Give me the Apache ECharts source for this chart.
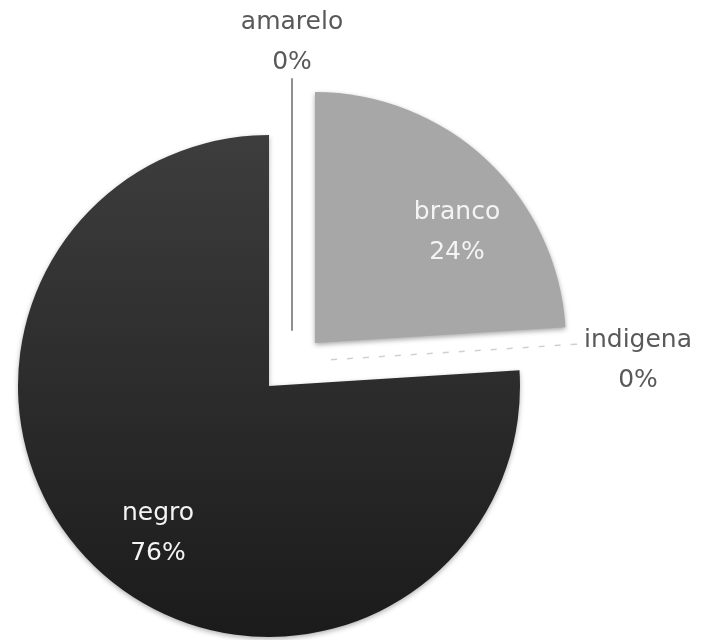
<!DOCTYPE html>
<html>
<head>
<meta charset="utf-8">
<script src="https://cdn.jsdelivr.net/npm/echarts@6/dist/echarts.min.js"></script>
<style>
  html, body { margin: 0; padding: 0; background: #ffffff; }
  #chart { width: 704px; height: 640px; }
</style>
</head>
<body>
<div id="chart"></div>
<script>
// Slices, clockwise from 12 o'clock
const categories = ['amarelo', 'branco', 'indigena', 'negro'];
const values = [0, 24, 0, 76];

// Each slice is pulled out of the pie on its own centre
const sliceCenters = {
  amarelo: [292, 330],
  branco: [315, 343],
  indigena: [326, 360],
  negro: [269, 386]
};

const sliceStyles = {
  amarelo: { color: 'rgba(0,0,0,0)', borderColor: '#8f8f8f', borderWidth: 2 },
  branco: { color: '#a7a7a7', borderWidth: 0, shadowBlur: 5, shadowColor: 'rgba(0,0,0,0.35)', shadowOffsetY: 2 },
  indigena: { color: 'rgba(0,0,0,0)', borderColor: '#d0d0d0', borderWidth: 1.5, borderType: [6, 10] },
  negro: {
    color: { type: 'linear', x: 0, y: 0, x2: 0, y2: 1,
      colorStops: [{ offset: 0, color: '#3d3d3d' }, { offset: 1, color: '#1b1b1b' }] },
    borderWidth: 0, shadowBlur: 5, shadowColor: 'rgba(0,0,0,0.3)', shadowOffsetY: 2
  }
};

const baseFont = { fontFamily: 'DejaVu Sans', fontSize: 25, lineHeight: 40 };
const insideLabel = Object.assign({ show: true, position: 'inside', color: '#f4f4f4',
  formatter: '{b}\n{d}%' }, baseFont);
const outsideLabel = Object.assign({ show: true, position: 'outside', color: '#595959',
  formatter: '{b}\n{d}%' }, baseFont);

// Label anchor for each slice
const labelPlace = {
  amarelo: { x: 292, y: 42 },
  branco: { x: 457, y: 232 },
  indigena: { x: 638, y: 360 },
  negro: { x: 158, y: 533 }
};

function seriesFor(target) {
  return {
    type: 'pie',
    name: target,
    center: sliceCenters[target],
    radius: 251,
    startAngle: 90,
    clockwise: true,
    avoidLabelOverlap: false,
    labelLine: { show: false },
    emphasis: { disabled: true },
    silent: true,
    data: categories.map((name, i) => ({
      name: name,
      value: values[i],
      itemStyle: name === target ? sliceStyles[name] : { color: 'rgba(0,0,0,0)', borderWidth: 0 },
      label: name === target ? (values[i] > 0 ? insideLabel : outsideLabel) : { show: false }
    })),
    labelLayout: function (params) {
      const p = labelPlace[categories[params.dataIndex]];
      return { x: p.x, y: p.y, align: 'center', verticalAlign: 'middle' };
    }
  };
}

const chart = echarts.init(document.getElementById('chart'), null, { renderer: 'canvas' });
chart.setOption({
  animation: false,
  backgroundColor: '#ffffff',
  series: categories.map(seriesFor)
});
</script>
</body>
</html>
